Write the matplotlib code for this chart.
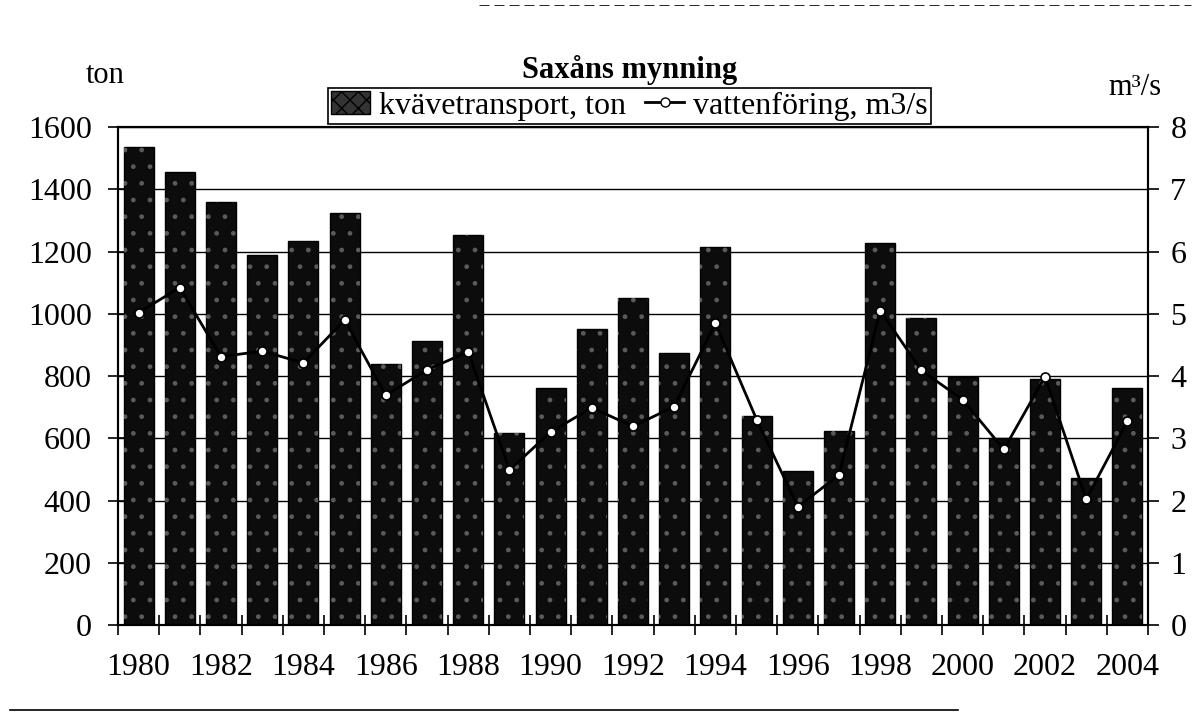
import matplotlib
matplotlib.use("Agg")
import matplotlib.pyplot as plt
from matplotlib.patches import Patch
from matplotlib.lines import Line2D
import numpy as np

# data
years = list(range(1980, 2005))
kvave = [1536, 1456, 1359, 1189, 1234, 1325, 838, 914, 1252, 617, 760, 951, 1050,
         875, 1213, 670, 496, 622, 1228, 985, 797, 602, 790, 472, 760]
vatten = [5.02, 5.42, 4.31, 4.40, 4.21, 4.90, 3.69, 4.10, 4.39, 2.49, 3.10, 3.49, 3.19,
          3.51, 4.85, 3.30, 1.90, 2.41, 5.05, 4.09, 3.62, 2.82, 3.99, 2.02, 3.27]
left_ticks = [0, 200, 400, 600, 800, 1000, 1200, 1400, 1600]
right_ticks = [0, 1, 2, 3, 4, 5, 6, 7, 8]

plt.rcParams['font.family'] = ['Liberation Serif', 'DejaVu Serif']
plt.rcParams['hatch.linewidth'] = 1.0

fig = plt.figure(figsize=(11.97, 7.16), dpi=100)
ax = fig.add_axes([0.0986, 0.1271, 0.8605, 0.6955])
ax2 = ax.twinx()

x = np.arange(len(years))

ax.set_axisbelow(True)
ax.yaxis.grid(True, color='black', linewidth=1.0)
ax.bar(x, kvave, width=0.73, color='#0c0c0c', edgecolor='black', linewidth=1, zorder=2)
ax.bar(x, kvave, width=0.73, facecolor='none', edgecolor='#5a5a5a', hatch='.',
       linewidth=0, zorder=2)

ax2.plot(x, vatten, color='black', linewidth=2.0, marker='o', markersize=6.5,
         markerfacecolor='white', markeredgecolor='black', markeredgewidth=1.2, zorder=3)

ax.set_xlim(-0.5, len(years) - 0.5)
ax.set_ylim(0, 1600)
ax2.set_ylim(0, 8)
ax.set_yticks(left_ticks)
ax2.set_yticks(right_ticks)

# ticks between the bars, labels every second year under the bars
ax.set_xticks(np.arange(-0.5, len(years), 1.0))
ax.set_xticklabels([])
ax.set_xticks(x[::2], minor=True)
ax.set_xticklabels([str(y) for y in years[::2]], minor=True)
ax.tick_params(axis='x', which='major', direction='inout', length=14, width=1.2)
ax.tick_params(axis='x', which='minor', length=0, pad=20, labelsize=23)
ax.tick_params(axis='y', direction='inout', length=14, width=1.2, pad=12, labelsize=23)
ax2.tick_params(axis='y', direction='out', length=8, width=1.2, pad=8, labelsize=23)

for a in (ax, ax2):
    for s in a.spines.values():
        s.set_linewidth(1.5)
        s.set_color('black')

fig.text(0.088, 0.895, 'ton', fontsize=22, ha='center', va='center')
fig.text(0.948, 0.878, 'm³/s', fontsize=22, ha='center', va='center')
fig.text(0.526, 0.902, 'Saxåns mynning', fontsize=22, fontweight='bold',
         ha='center', va='center')

handles = [Patch(facecolor='#333333', edgecolor='black', hatch='xx'),
           Line2D([], [], color='black', linewidth=2.0, marker='o', markersize=6.5,
                  markerfacecolor='white', markeredgecolor='black')]
leg = fig.legend(handles, ['kvävetransport, ton', 'vattenföring, m3/s'],
                 loc='lower center', bbox_to_anchor=(0.526, 0.827), ncol=2,
                 fontsize=23, frameon=True, fancybox=False, framealpha=1,
                 edgecolor='black', borderpad=0.1, borderaxespad=0, handlelength=1.2,
                 handletextpad=0.3, columnspacing=0.6, handleheight=0.7)
leg.get_frame().set_linewidth(1.2)

# outer frame of the scanned figure
fig.add_artist(plt.Line2D([0.008, 0.80], [0.009, 0.009], color='black', linewidth=1.2))
fig.add_artist(plt.Line2D([0.40, 0.995], [0.993, 0.993], color='black', linewidth=0.6,
                          linestyle=(0, (12, 6))))

fig.savefig('out.png', dpi=100)
